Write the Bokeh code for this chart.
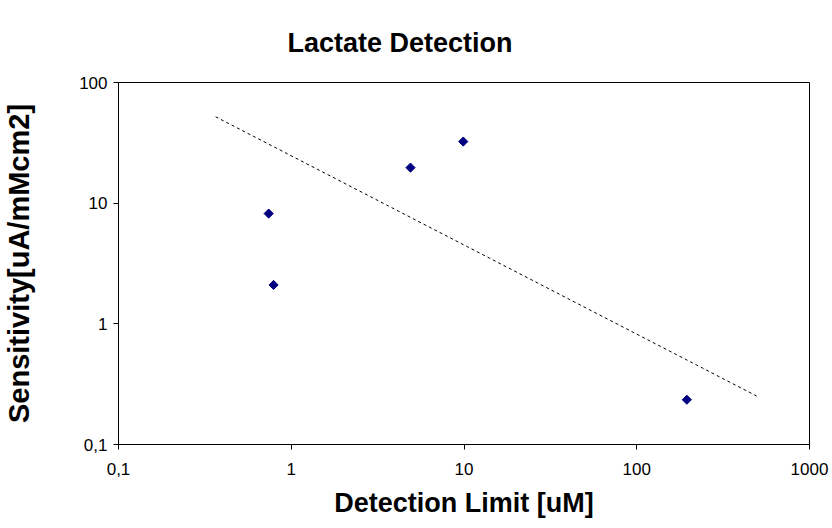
import math
from bokeh.plotting import figure
from bokeh.models import FixedTicker, CustomJSTickFormatter, Range1d
from bokeh.embed import file_html
from bokeh.resources import INLINE

# Data
detection_limit = [0.74, 0.79, 4.9, 9.9, 195]
sensitivity = [8.2, 2.1, 19.7, 32.4, 0.235]
trend_x = [0.365, 495]
trend_y = [52, 0.252]
x_ticks = [0.1, 1, 10, 100, 1000]
y_ticks = [0.1, 1, 10, 100]
title_text = "Lactate Detection"

FONT = "Liberation Sans"

p = figure(width=832, height=528, x_axis_type="log", y_axis_type="log",
           x_range=Range1d(0.1, 1000), y_range=Range1d(0.1, 100),
           output_backend="svg", toolbar_location=None,
           min_border_left=118, min_border_right=23,
           min_border_top=82, min_border_bottom=84)

p.title.text = title_text
p.title.text_font = FONT
p.title.text_font_size = "27px"
p.title.text_font_style = "bold"
p.title.text_color = "black"
p.title.align = "left"
p.title.offset = 169
p.title.vertical_align = "top"
p.title.standoff = 46

p.line(trend_x, trend_y, line_color="black", line_width=1, line_dash="3 3")
p.scatter(detection_limit, sensitivity, marker="square", angle=math.pi / 4,
          size=6.5, fill_color="#000080", line_color="#000080")

fmt = CustomJSTickFormatter(code="return tick.toString().replace('.', ',');")
for ax, ticks in ((p.xaxis, x_ticks), (p.yaxis, y_ticks)):
    ax.ticker = FixedTicker(ticks=ticks)
    ax.formatter = fmt
    ax.minor_tick_line_color = None
    ax.major_tick_in = 0
    ax.major_tick_out = 5
    ax.major_tick_line_color = "black"
    ax.axis_line_color = "black"
    ax.major_label_text_font = FONT
    ax.major_label_text_font_size = "17px"
    ax.major_label_text_color = "black"
    ax.axis_label_text_font = FONT
    ax.axis_label_text_font_style = "bold"
    ax.axis_label_text_color = "black"

p.xaxis.axis_label = "Detection Limit [uM]"
p.yaxis.axis_label = "Sensitivity[uA/mMcm2]"
p.xaxis.axis_label_text_font_size = "27px"
p.yaxis.axis_label_text_font_size = "29px"
p.xaxis.major_label_standoff = 13
p.yaxis.major_label_standoff = 6
p.xaxis.axis_label_standoff = 10
p.yaxis.axis_label_standoff = 41

p.xgrid.grid_line_color = None
p.ygrid.grid_line_color = None
p.outline_line_color = "black"
p.outline_line_alpha = 1
p.outline_line_width = 1

open("out.html", "w").write(file_html(p, INLINE))
